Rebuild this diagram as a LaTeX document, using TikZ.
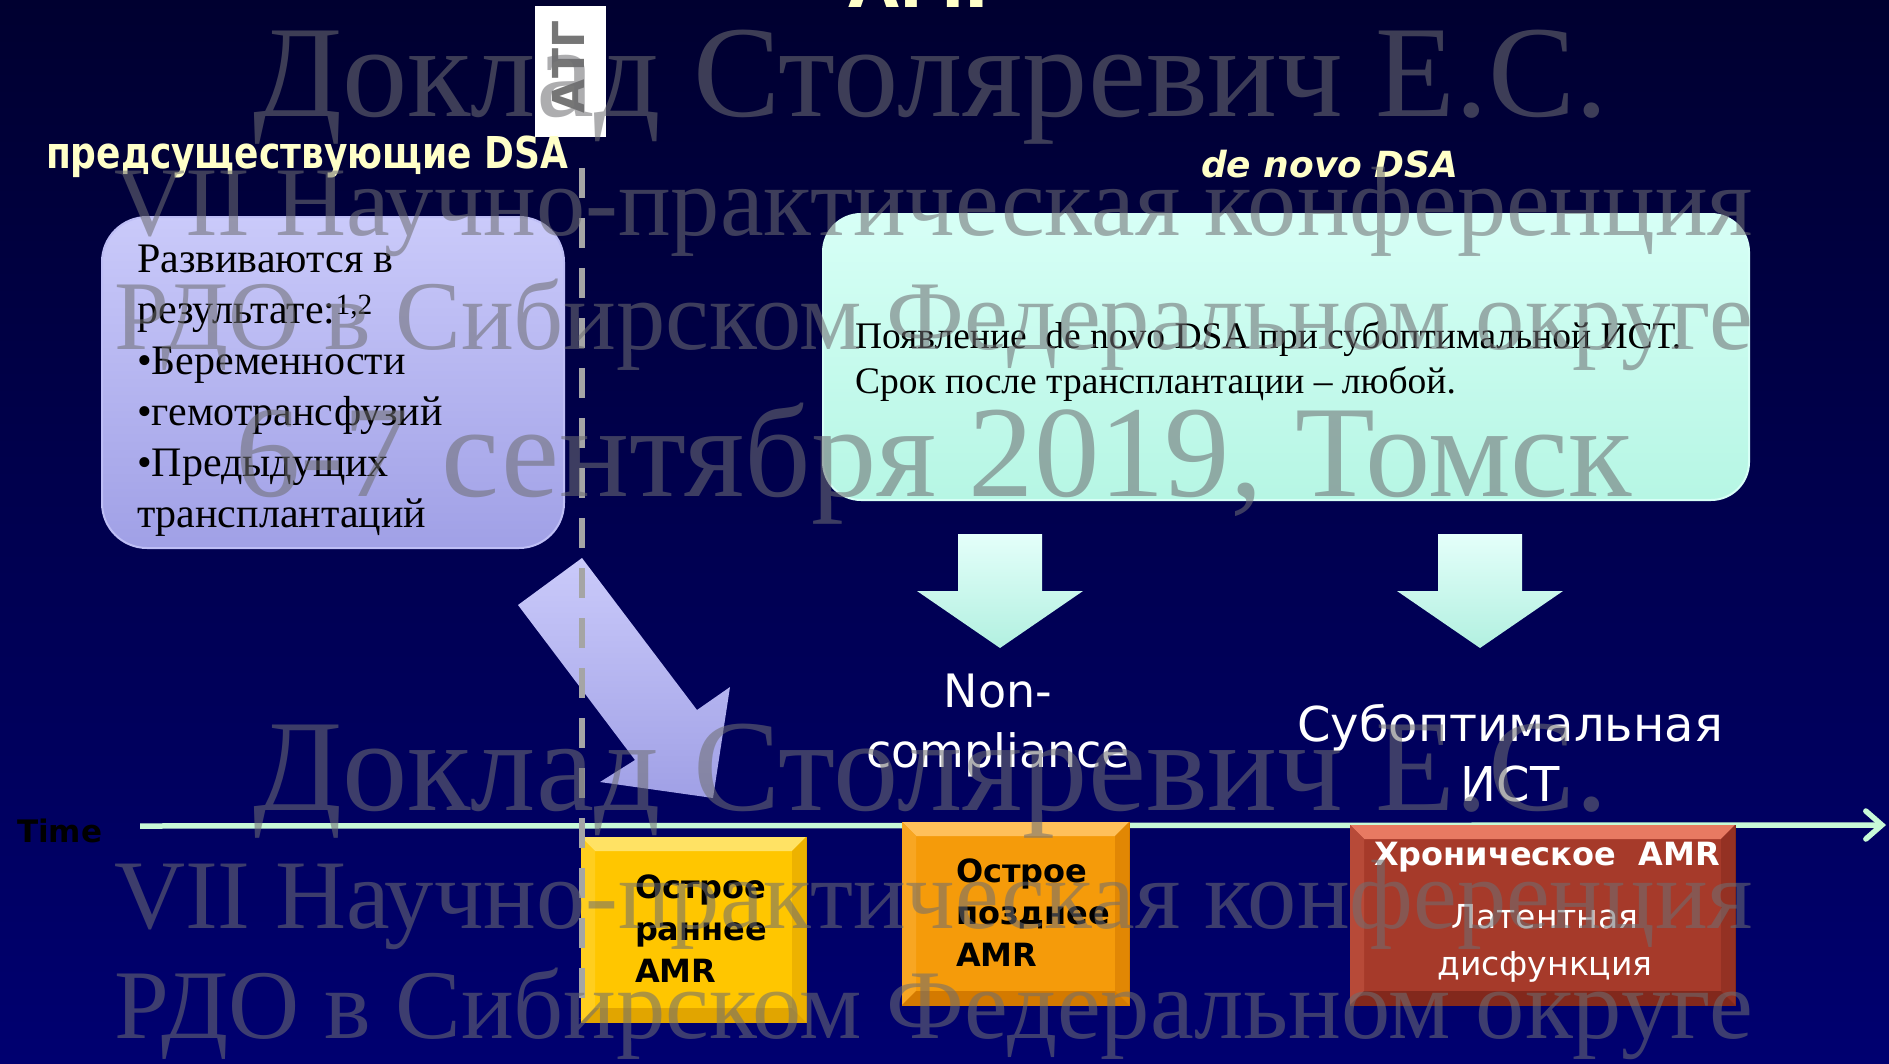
\documentclass[tikz,border=0pt]{standalone}
\usepackage{fontspec}
\setmainfont{Liberation Serif}
\newfontfamily\comic{DejaVu Sans}
\usetikzlibrary{arrows.meta,calc}
\definecolor{bgtop}{RGB}{0,0,48}
\definecolor{bgmid}{RGB}{0,0,96}
\definecolor{bgbot}{RGB}{0,0,112}
\definecolor{hdr}{RGB}{255,255,200}
\definecolor{wmgray}{RGB}{110,110,114}
\definecolor{lavtop}{RGB}{202,202,250}
\definecolor{lavbot}{RGB}{160,160,230}
\definecolor{lavedge}{RGB}{190,190,245}
\definecolor{mintop}{RGB}{228,255,250}
\definecolor{minbot}{RGB}{178,240,224}
\definecolor{cyantop}{RGB}{215,255,246}
\definecolor{cyanbot}{RGB}{182,246,228}
\definecolor{tline}{RGB}{200,250,215}
\definecolor{dashgray}{RGB}{165,165,165}
\definecolor{atggray}{RGB}{118,118,118}
\definecolor{yel}{RGB}{255,198,0}
\definecolor{yellt}{RGB}{255,226,100}
\definecolor{yeldk}{RGB}{225,165,0}
\definecolor{org}{RGB}{245,155,10}
\definecolor{orglt}{RGB}{255,192,90}
\definecolor{orgdk}{RGB}{212,122,0}
\definecolor{redb}{RGB}{166,58,42}
\definecolor{redlt}{RGB}{232,122,98}
\definecolor{reddk}{RGB}{130,40,28}
\newcommand\bevelbox[6]{%
  \fill[#3] (#1.north west) -- (#1.north east) -- ($(#1.north east)+(-#2,#2)$) -- ($(#1.north west)+(#2,#2)$) -- cycle;
  \fill[#4] (#1.north west) -- (#1.south west) -- ($(#1.south west)+(#2,-#2)$) -- ($(#1.north west)+(#2,#2)$) -- cycle;
  \fill[#5] (#1.north east) -- (#1.south east) -- ($(#1.south east)+(-#2,-#2)$) -- ($(#1.north east)+(-#2,#2)$) -- cycle;
  \fill[#6] (#1.south west) -- (#1.south east) -- ($(#1.south east)+(-#2,-#2)$) -- ($(#1.south west)+(#2,-#2)$) -- cycle;
}
\newcommand\mintarrow[1]{%
  \shade[top color=mintop, bottom color=minbot]
    ({#1-42},534) -- ({#1+42},534) -- ({#1+42},591) -- ({#1+83},591) -- (#1,648)
    -- ({#1-83},591) -- ({#1-42},591) -- cycle;
}
\newcommand\fs[2]{\fontsize{#1pt}{#2pt}\selectfont}
\begin{document}
\begin{tikzpicture}[x=1pt,y=-1pt,
  lbl/.style={inner sep=0pt, outer sep=0pt},
  hdrtext/.style={lbl, text=hdr, font=\comic\bfseries\fs{36}{42}},
  bodytext/.style={lbl, align=left, text=black},
  amrtext/.style={lbl, align=left, text=black, font=\comic\bfseries\fs{32}{42}},
  wtext/.style={lbl, align=center, text=white, font=\comic\fs{48}{60}},
  wm/.style={lbl, anchor=base west, text=wmgray, text opacity=0.56, font=\rmfamily\fs{130}{130}},
  timeline/.style={draw=tline, line width=5.5pt, -{Straight Barb[length=16pt, width=28pt, line cap=round]}},
  dashline/.style={draw=dashgray, line width=6pt, dash pattern=on 30pt off 20pt}]
\useasboundingbox (0,0) rectangle (1889,1063);
\shade[top color=bgtop, middle color=bgmid, bottom color=bgbot] (0,0) rectangle (1889,1063);

% title remnant at the top edge
\node[lbl, anchor=base west, text=hdr, font=\comic\bfseries\fs{66}{66}] (title) at (848,7) {АМР};

% ATG label
\node[lbl, fill=white, minimum width=71pt, minimum height=131pt] (atgbox) at (570,71.5) {};
\node[lbl, rotate=90, text=atggray, font=\comic\bfseries\fs{44}{44}] (atg) at (568,67) {АТГ};

% headers
\node[hdrtext, anchor=base west] (pre) at (46,168) {\scalebox{1}[1.22]{предсуществующие DSA}};
\node[hdrtext, anchor=base west, font=\comic\bfseries\itshape\fs{36}{40}] (denovo) at (1201,177) {de novo DSA};

% left box
\node[lbl, rounded corners=45pt, top color=lavtop, bottom color=lavbot, draw=lavedge, line width=2pt,
      minimum width=462pt, minimum height=331pt] (prebox) at (333,382.5) {};
\node[bodytext, anchor=north west, font=\rmfamily\fs{42}{51}] (pretext) at (137,245)
  {Развиваются в\\результате:\textsuperscript{1,2}\\•Беременности\\•гемотрансфузий\\•Предыдущих\\трансплантаций};

% right box
\node[lbl, rounded corners=38pt, top color=cyantop, bottom color=cyanbot, draw=cyantop, line width=2pt,
      minimum width=926pt, minimum height=286pt] (dnbox) at (1286,357) {};
\node[bodytext, anchor=north west, font=\rmfamily\fs{37.5}{45}] (dntext) at (855,322)
  {Появление\ \ de novo DSA при субоптимальной ИСТ.\\Срок после трансплантации – любой.};

% down arrows
\mintarrow{1000}
\mintarrow{1480}

% diagonal arrow
\shade[top color=lavtop, bottom color=lavbot]
  (518,605) -- (582,558) -- (697,710) -- (730,687) -- (713,798) -- (600,782) -- (635,760) -- cycle;

% labels under the arrows (base anchor = last line)
\node[wtext, anchor=base, font=\comic\fs{46}{60}] (nonc) at (998,767) {Non-\\compliance};
\node[wtext, anchor=base] (subopt) at (1510,801) {Субоптимальная\\ИСТ};

% time axis
\node[lbl, anchor=base west, text=black, font=\comic\bfseries\fs{31}{31}] (time) at (17,842) {Time};
\coordinate (t0) at (140,826);
\coordinate (t1) at (1886,825);
\draw[timeline] (t0) -- (t1);

% boxes
\node[lbl, fill=yel, draw=yeldk, line width=1pt, minimum width=225pt, minimum height=185pt] (yb) at (693.5,929.5) {};
\bevelbox{yb}{14}{yellt}{yel!70!yellt}{yeldk!60!yel}{yeldk}
\node[lbl, fill=org, draw=orgdk, line width=1pt, minimum width=227pt, minimum height=183pt] (ob) at (1015.5,913.5) {};
\bevelbox{ob}{14}{orglt}{org!70!orglt}{orgdk!60!org}{orgdk}
\node[lbl, fill=redb, draw=reddk, line width=1pt, minimum width=385pt, minimum height=180pt] (rb) at (1542.5,915) {};
\bevelbox{rb}{14}{redlt}{redb!75!redlt}{reddk!50!redb}{reddk}

\node[amrtext, anchor=north west] (ybt) at (635,875) {Острое\\раннее\\AMR};
\node[amrtext, anchor=north west] (obt) at (956,859) {Острое\\позднее\\AMR};
\node[lbl, anchor=base, text=white, font=\comic\bfseries\fs{32}{32}] (rbh) at (1547,865) {Хроническое\ \ AMR};
\node[lbl, anchor=base, align=center, text=white, font=\comic\fs{33}{47}] (rbt) at (1545,975) {Латентная\\дисфункция};

% dashed divider
\coordinate (d0) at (582,168);
\coordinate (d1) at (582,1018);
\draw[dashline] (d0) -- (d1);

% watermark
\node[wm] (w1) at (253,116) {\resizebox{1355pt}{!}{Доклад Столяревич Е.С.}};
\node[wm] (w2) at (114,235) {\resizebox{1639pt}{!}{VII Научно-практическая конференция}};
\node[wm] (w3) at (114,349) {\resizebox{1639pt}{!}{РДО в Сибирском Федеральном округе}};
\node[wm] (w4) at (235,496) {\resizebox{1397pt}{!}{6-7 сентября 2019, Томск}};
\node[wm] (w5) at (253,810) {\resizebox{1355pt}{!}{Доклад Столяревич Е.С.}};
\node[wm] (w6) at (114,928) {\resizebox{1639pt}{!}{VII Научно-практическая конференция}};
\node[wm] (w7) at (114,1038) {\resizebox{1639pt}{!}{РДО в Сибирском Федеральном округе}};
\end{tikzpicture}
\end{document}
